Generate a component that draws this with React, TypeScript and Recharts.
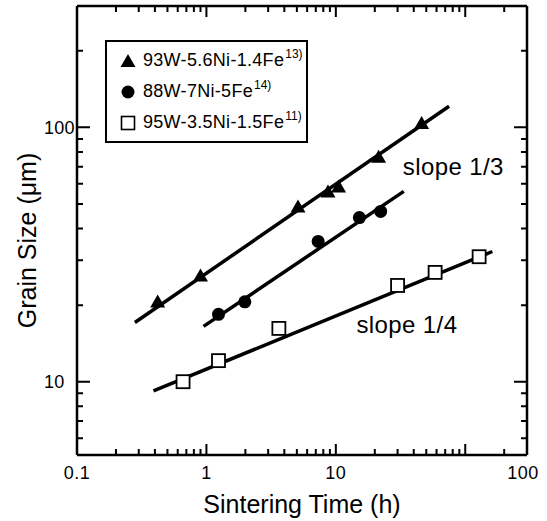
import { ScatterChart, Scatter, XAxis, YAxis, Legend, ReferenceDot } from 'recharts';

const FONT = '"Liberation Sans", Arial, Helvetica, sans-serif';

// 93W-5.6Ni-1.4Fe
const triTime = [0.42, 0.9, 5.1, 8.7, 10.5, 21.4, 46];
const triSize = [20.5, 25.9, 48.4, 55.5, 58, 76, 103];
// 88W-7Ni-5Fe
const cirTime = [1.24, 1.98, 7.3, 15.2, 22.2];
const cirSize = [18.4, 20.6, 35.6, 44.2, 46.7];
// 95W-3.5Ni-1.5Fe
const sqTime = [0.66, 1.24, 3.63, 30, 58.5, 128];
const sqSize = [10, 12.1, 16.2, 23.9, 26.9, 31];

// fitted lines (end points)
const triFitTime = [0.28, 75];
const triFitSize = [17.1, 121];
const cirFitTime = [0.95, 33.5];
const cirFitSize = [16.5, 56];
const sqFitTime = [0.39, 162];
const sqFitSize = [9.2, 32.5];

const seriesNames = ['93W-5.6Ni-1.4Fe', '88W-7Ni-5Fe', '95W-3.5Ni-1.5Fe'];
const seriesRefs = ['13)', '14)', '11)'];

// axes
const xDomain = [0.1, 300];
const yDomain = [5.15, 300];
const xMajor = [1, 10, 100];
const xMinor = [0.2, 0.3, 0.4, 0.5, 0.6, 0.7, 0.8, 0.9, 2, 3, 4, 5, 6, 7, 8, 9, 20, 30, 40, 50, 60, 70, 80, 90, 200];
// the original prints "100" at the right end of the axis
const xLabelAt = [0.1, 1, 10, 280];
const xLabelText = ['0.1', '1', '10', '100'];
const yMajor = [10, 100];
const yMinor = [6, 7, 8, 9, 20, 30, 40, 50, 60, 70, 80, 90, 200];
const yLabelAt = [10, 100];
const yLabelText = ['10', '100'];

const pts = (xs: number[], ys: number[]) => xs.map((x, i) => ({ x, y: ys[i] }));
const uniq = (a: number[]) => Array.from(new Set(a)).sort((p, q) => p - q);
const xTicks = uniq([...xMajor, ...xMinor, ...xLabelAt]);
const yTicks = uniq([...yMajor, ...yMinor, ...yLabelAt]);

// chart layout
const W = 547;
const H = 521;
const X_AXIS_H = 66;
const Y_AXIS_W = 77;
const PLOT_BOTTOM = H - X_AXIS_H;
const PLOT_LEFT = Y_AXIS_W;

function lenOf(v: number, major: number[], minor: number[], big: number) {
  if (major.indexOf(v) >= 0) return big;
  if (minor.indexOf(v) >= 0) return 6;
  return 0;
}

// the top axis draws the inward marks of both the top and the bottom frame
function xt(props: any, side: string) {
  const x = Number(props.x), y = Number(props.y);
  const v = props.payload.value;
  const len = lenOf(v, xMajor, xMinor, 11);
  const li = xLabelAt.indexOf(v);
  if (side === 'top') {
    return (
      <g key={`t-${v}`}>
        {len > 0 ? <path d={`M${x},${y}L${x},${y + len}M${x},${PLOT_BOTTOM}L${x},${PLOT_BOTTOM - len}`} stroke="#000" strokeWidth={2} fill="none" /> : null}
      </g>
    );
  }
  return (
    <g key={`b-${v}`}>
      {li >= 0 ? (
        <text x={x} y={y + 18} dy="0.35em" textAnchor="middle" fontSize={18} letterSpacing={0.5} fontFamily={FONT} fill="#000">
          {xLabelText[li]}
        </text>
      ) : null}
    </g>
  );
}

// the right axis draws the inward marks of both the right and the left frame
function yt(props: any, side: string) {
  const x = Number(props.x), y = Number(props.y);
  const v = props.payload.value;
  const len = lenOf(v, yMajor, yMinor, 13);
  const li = yLabelAt.indexOf(v);
  if (side === 'right') {
    return (
      <g key={`r-${v}`}>
        {len > 0 ? <path d={`M${x},${y}L${x - len},${y}M${PLOT_LEFT},${y}L${PLOT_LEFT + len},${y}`} stroke="#000" strokeWidth={2} fill="none" /> : null}
      </g>
    );
  }
  return (
    <g key={`l-${v}`}>
      {li >= 0 ? (
        <text x={x - 33} y={y} dy="0.35em" textAnchor="start" fontSize={18} letterSpacing={0.3} fontFamily={FONT} fill="#000">
          {yLabelText[li]}
        </text>
      ) : null}
    </g>
  );
}

const Triangle = (p: any) => (
  <polygon points={`${p.cx},${p.cy - 8} ${p.cx + 7.5},${p.cy + 5} ${p.cx - 7.5},${p.cy + 5}`} fill="#000" />
);
const Disc = (p: any) => <circle cx={p.cx} cy={p.cy} r={6.5} fill="#000" />;
const Square = (p: any) => (
  <rect x={p.cx - 6.5} y={p.cy - 6.5} width={13} height={13} fill="#fff" stroke="#000" strokeWidth={1.8} />
);
const NoMark = () => <g />;

const markers = [
  <svg width={16} height={16}><polygon points="8,1 15.5,14 0.5,14" fill="#000" /></svg>,
  <svg width={16} height={16}><circle cx={8} cy={8} r={6.5} fill="#000" /></svg>,
  <svg width={16} height={16}><rect x={1.5} y={1.5} width={13} height={13} fill="#fff" stroke="#000" strokeWidth={1.6} /></svg>,
];

const legendBox = (
  <div style={{ border: '2px solid #000', width: 199, height: 96, paddingTop: 3, boxSizing: 'content-box', background: '#fff', fontFamily: FONT }}>
    {seriesNames.map((n, i) => (
      <div key={n} style={{ display: 'flex', alignItems: 'center', height: 31 }}>
        <span style={{ marginLeft: 13, marginRight: 7, display: 'flex' }}>{markers[i]}</span>
        <span style={{ fontSize: 18, letterSpacing: 0.3, color: '#000', whiteSpace: 'nowrap' }}>
          {n}
          <span style={{ fontSize: 12, position: 'relative', top: -8, marginLeft: 1, letterSpacing: 0 }}>{seriesRefs[i]}</span>
        </span>
      </div>
    ))}
  </div>
);

const axisLine = { stroke: '#000', strokeWidth: 2.5 };
const fitLine = { stroke: '#000', strokeWidth: 3.5 };

function yTitle(lp: any) {
  const vb = lp.viewBox;
  const cy = vb.y + vb.height / 2 + 10;
  return (
    <text x={27} y={cy} transform={`rotate(-90, 27, ${cy})`} textAnchor="middle" dy="0.35em" fontSize={25} fontFamily={FONT} fill="#000">
      Grain Size (μm)
    </text>
  );
}

export default function App() {
  return (
    <div style={{ position: 'absolute', left: 0, top: 0, width: W, height: H }}>
      <ScatterChart width={W} height={H} margin={{ top: 5, right: 19, bottom: 0, left: 0 }}>
        <XAxis xAxisId="b" dataKey="x" type="number" scale="log" domain={xDomain} allowDataOverflow ticks={xTicks} interval={0}
          tickSize={0} tickMargin={0} height={X_AXIS_H} tickLine={false} axisLine={axisLine}
          tick={(p: any) => xt(p, 'bottom')}
          label={{ value: 'Sintering Time (h)', position: 'insideBottom', offset: 8, fontSize: 25, fontFamily: FONT, fill: '#000' }} />
        <XAxis xAxisId="t" orientation="top" dataKey="x" type="number" scale="log" domain={xDomain} allowDataOverflow ticks={xTicks} interval={0}
          tickSize={0} tickMargin={0} height={1} tickLine={false} axisLine={axisLine}
          tick={(p: any) => xt(p, 'top')} />
        <YAxis yAxisId="l" dataKey="y" type="number" scale="log" domain={yDomain} allowDataOverflow ticks={yTicks} interval={0}
          tickSize={0} tickMargin={0} width={Y_AXIS_W} tickLine={false} axisLine={axisLine}
          tick={(p: any) => yt(p, 'left')}
          label={{ content: yTitle }} />
        <YAxis yAxisId="r" orientation="right" dataKey="y" type="number" scale="log" domain={yDomain} allowDataOverflow ticks={yTicks} interval={0}
          tickSize={0} tickMargin={0} width={1} tickLine={false} axisLine={axisLine}
          tick={(p: any) => yt(p, 'right')} />

        <Scatter xAxisId="b" yAxisId="l" data={pts(triFitTime, triFitSize)} line={fitLine} shape={NoMark} legendType="none" isAnimationActive={false} />
        <Scatter xAxisId="b" yAxisId="l" data={pts(cirFitTime, cirFitSize)} line={fitLine} shape={NoMark} legendType="none" isAnimationActive={false} />
        <Scatter xAxisId="b" yAxisId="l" data={pts(sqFitTime, sqFitSize)} line={fitLine} shape={NoMark} legendType="none" isAnimationActive={false} />

        <Scatter name={seriesNames[0]} xAxisId="b" yAxisId="l" data={pts(triTime, triSize)} shape={Triangle} isAnimationActive={false} />
        <Scatter name={seriesNames[1]} xAxisId="b" yAxisId="l" data={pts(cirTime, cirSize)} shape={Disc} isAnimationActive={false} />
        <Scatter name={seriesNames[2]} xAxisId="b" yAxisId="l" data={pts(sqTime, sqSize)} shape={Square} isAnimationActive={false} />

        <ReferenceDot xAxisId="b" yAxisId="l" x={80.8} y={70} r={0} stroke="none"
          label={{ value: 'slope 1/3', position: 'center', fontSize: 24, letterSpacing: 0.4, fontFamily: FONT, fill: '#000' }} />
        <ReferenceDot xAxisId="b" yAxisId="l" x={35.4} y={16.8} r={0} stroke="none"
          label={{ value: 'slope 1/4', position: 'center', fontSize: 24, letterSpacing: 0.4, fontFamily: FONT, fill: '#000' }} />

        <Legend content={legendBox} layout="vertical" align="center" verticalAlign="middle"
          wrapperStyle={{ left: 105, top: 40, width: 'auto', height: 'auto' }} />
      </ScatterChart>
    </div>
  );
}
